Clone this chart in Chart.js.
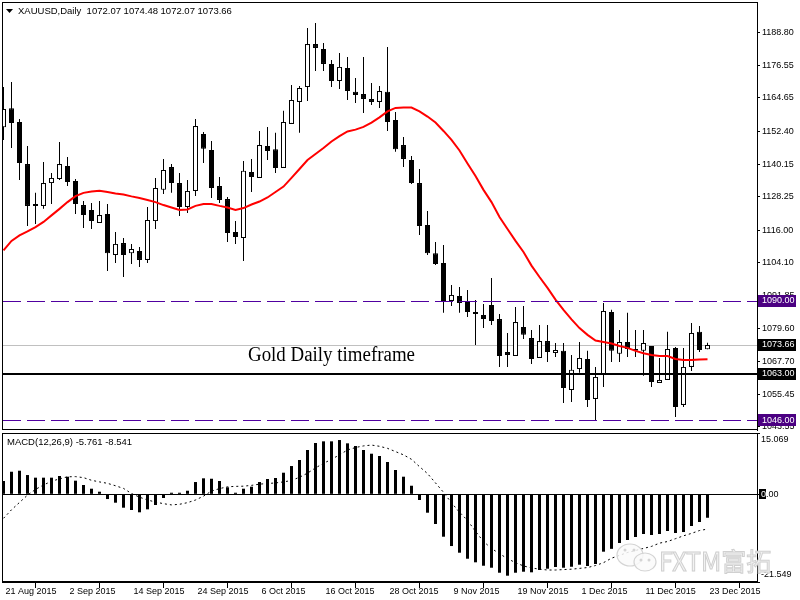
<!DOCTYPE html>
<html>
<head>
<meta charset="utf-8">
<title>XAUUSD Daily</title>
<script src="https://cdn.jsdelivr.net/npm/chart.js@4.4.1/dist/chart.umd.min.js"></script>
<style>
  html, body { margin: 0; padding: 0; background: #fff; }
  #wrap { position: relative; width: 800px; height: 600px; overflow: hidden; }
  canvas { position: absolute; left: 0; display: block; }
  #priceChart { top: 0; }
  #macdChart { top: 431px; }
</style>
</head>
<body>
<div id="wrap">
  <canvas id="priceChart" width="800" height="431"></canvas>
  <canvas id="macdChart" width="800" height="169"></canvas>
</div>
<script>
// bar 0 = 21 Aug 2015 ... bar 88 = 23 Dec 2015
var dateTicks = [0, 8, 16, 24, 32, 40, 48, 56, 64, 72, 80, 88];
var dateLabels = ['21 Aug 2015', '2 Sep 2015', '14 Sep 2015', '24 Sep 2015', '6 Oct 2015', '16 Oct 2015',
  '28 Oct 2015', '9 Nov 2015', '19 Nov 2015', '1 Dec 2015', '11 Dec 2015', '23 Dec 2015'];

var opens = [
  1153.9, 1160.9, 1155.8, 1140.3, 1125.6, 1124.9, 1133.3, 1134.8, 1139.6, 1134.1,
  1125.2, 1123.4, 1118.6, 1121.9, 1106.8, 1111.2, 1107.5, 1108.3, 1105.0, 1119.3,
  1130.8, 1139.2, 1133.3, 1124.5, 1130.4, 1151.4, 1145.5, 1132.2, 1127.4, 1115.3,
  1113.1, 1137.4, 1135.2, 1147.0, 1145.8, 1138.9, 1155.1, 1163.2, 1168.7, 1184.5,
  1182.7, 1177.2, 1170.9, 1175.7, 1166.9, 1166.1, 1164.3, 1163.2, 1166.9, 1156.5,
  1147.3, 1141.8, 1133.3, 1117.9, 1107.5, 1103.9, 1089.9, 1091.7, 1089.5, 1085.8,
  1084.7, 1088.4, 1083.2, 1071.1, 1069.6, 1080.3, 1076.2, 1068.9, 1075.1, 1070.7,
  1071.5, 1057.1, 1064.8, 1068.5, 1053.8, 1062.6, 1085.8, 1070.4, 1074.8, 1072.2,
  1071.5, 1073.3, 1059.7, 1060.8, 1072.6, 1051.6, 1065.6, 1078.5, 1072.07];
var highs = [
  1168.7, 1170.5, 1156.9, 1147.0, 1129.7, 1141.1, 1137.0, 1148.4, 1142.9, 1134.8,
  1126.7, 1126.0, 1126.7, 1125.6, 1115.3, 1113.1, 1110.9, 1109.8, 1124.5, 1135.2,
  1142.2, 1140.3, 1137.0, 1134.4, 1156.9, 1152.1, 1148.8, 1135.5, 1128.2, 1119.3,
  1141.4, 1142.2, 1152.5, 1154.0, 1151.8, 1159.9, 1169.4, 1169.1, 1190.4, 1192.3,
  1184.9, 1178.6, 1181.2, 1179.7, 1172.0, 1179.7, 1170.2, 1169.1, 1183.4, 1159.5,
  1150.3, 1143.3, 1138.5, 1123.0, 1111.6, 1110.5, 1095.8, 1095.0, 1093.9, 1090.2,
  1088.8, 1098.3, 1085.1, 1078.1, 1087.7, 1088.0, 1079.2, 1081.0, 1081.0, 1074.4,
  1074.4, 1070.0, 1074.8, 1071.5, 1065.6, 1089.1, 1086.6, 1079.2, 1085.5, 1079.2,
  1079.2, 1073.3, 1068.9, 1078.5, 1072.9, 1072.6, 1081.8, 1080.7, 1074.48];
var lows = [
  1149.2, 1146.2, 1134.4, 1117.5, 1118.2, 1123.8, 1125.6, 1134.4, 1132.2, 1121.9,
  1116.8, 1116.4, 1118.6, 1100.9, 1103.9, 1098.7, 1103.5, 1102.4, 1103.9, 1116.4,
  1129.3, 1129.7, 1121.2, 1122.3, 1128.5, 1140.7, 1127.8, 1126.0, 1111.6, 1110.9,
  1104.6, 1130.0, 1135.2, 1141.8, 1137.0, 1138.9, 1155.1, 1151.8, 1163.5, 1174.6,
  1174.6, 1168.7, 1168.0, 1163.9, 1162.8, 1159.1, 1162.1, 1161.0, 1152.5, 1144.8,
  1139.2, 1133.0, 1114.2, 1106.8, 1103.1, 1085.5, 1088.0, 1085.5, 1084.0, 1073.7,
  1079.9, 1081.0, 1065.6, 1065.6, 1069.6, 1075.9, 1066.7, 1068.9, 1067.4, 1069.2,
  1052.3, 1052.7, 1063.4, 1050.8, 1046.0, 1058.2, 1067.4, 1067.4, 1069.2, 1069.2,
  1062.3, 1058.2, 1059.7, 1060.8, 1047.1, 1050.8, 1064.1, 1071.1, 1072.07];
var closes = [
  1160.6, 1155.4, 1140.7, 1124.9, 1124.9, 1133.3, 1135.2, 1140.3, 1133.7, 1125.6,
  1121.5, 1119.3, 1121.5, 1107.5, 1110.9, 1106.8, 1109.0, 1105.0, 1119.7, 1131.5,
  1138.1, 1133.3, 1124.5, 1130.4, 1154.3, 1145.9, 1131.5, 1127.1, 1114.9, 1113.4,
  1137.8, 1135.5, 1147.3, 1145.1, 1138.9, 1155.8, 1163.9, 1168.3, 1184.5, 1183.1,
  1177.2, 1170.9, 1176.1, 1167.2, 1165.7, 1164.3, 1163.2, 1167.2, 1155.8, 1145.8,
  1142.2, 1133.3, 1117.5, 1107.5, 1103.5, 1089.5, 1092.1, 1089.1, 1085.8, 1085.1,
  1083.2, 1082.5, 1069.6, 1070.0, 1082.1, 1077.4, 1068.5, 1075.1, 1071.1, 1071.8,
  1057.8, 1064.5, 1068.9, 1053.4, 1061.9, 1086.2, 1071.5, 1074.8, 1072.2, 1071.5,
  1074.4, 1060.0, 1060.8, 1072.2, 1050.8, 1065.6, 1078.1, 1071.8, 1073.66];
// red moving average
var maValues = [
  1108.5, 1112.0, 1114.0, 1115.5, 1117.1, 1119.0, 1121.4, 1123.8, 1126.3, 1128.5,
  1129.7, 1130.2, 1130.5, 1130.0, 1129.5, 1129.1, 1128.4, 1127.8, 1127.1, 1126.3,
  1125.2, 1124.3, 1123.4, 1123.6, 1124.9, 1125.6, 1125.6, 1124.9, 1124.3, 1123.4,
  1124.1, 1125.4, 1126.5, 1128.0, 1130.0, 1132.0, 1135.2, 1138.5, 1141.8, 1144.0,
  1146.2, 1148.6, 1150.6, 1152.3, 1153.0, 1154.0, 1155.6, 1157.5, 1159.7, 1161.0,
  1161.1, 1161.1, 1159.7, 1157.8, 1155.6, 1152.5, 1149.2, 1145.3, 1140.5, 1135.9,
  1130.8, 1126.3, 1120.8, 1116.4, 1112.0, 1107.9, 1102.9, 1098.7, 1094.7, 1090.4,
  1086.6, 1083.1, 1079.9, 1077.4, 1075.3, 1074.8, 1074.2, 1073.3, 1072.6, 1071.5,
  1070.6, 1070.0, 1069.6, 1069.6, 1068.5, 1068.1, 1068.1, 1068.3, 1068.4];

// MACD(12,26,9)
var macdMain = [
  3.27, 5.55, 5.80, 4.74, 4.09, 4.09, 4.09, 4.50, 4.33, 3.35,
  2.29, 1.38, 0.64, -1.16, -2.06, -3.29, -3.86, -4.42, -3.69, -2.63,
  -0.91, 0.39, 0.39, 0.88, 3.02, 3.93, 3.83, 3.27, 1.72, 0.39,
  1.38, 1.87, 3.02, 3.76, 4.01, 5.31, 6.95, 8.43, 10.89, 12.61,
  13.02, 13.02, 13.34, 12.53, 11.87, 10.89, 9.98, 9.41, 7.94, 5.97,
  4.33, 2.11, -1.40, -4.52, -7.30, -10.42, -12.71, -14.35, -15.83, -16.71,
  -17.55, -18.04, -19.27, -20.00, -19.27, -19.02, -19.17, -18.60, -18.28, -17.87,
  -18.04, -17.80, -17.30, -17.62, -17.13, -14.10, -13.40, -11.97, -11.23, -10.49,
  -9.76, -10.00, -9.76, -9.02, -9.51, -9.27, -7.79, -6.81, -5.761];
var macdSignal = [
  -5.9, -3.8, -2.0, -0.2, 1.2, 2.3, 3.2, 3.8, 4.3, 4.35,
  4.1, 3.45, 3.05, 2.7, 2.1, 1.45, 0.2, -0.7, -1.4, -1.9,
  -2.3, -2.6, -2.45, -2.05, -1.4, -0.45, 0.8, 1.4, 1.85, 1.95,
  2.0, 2.2, 2.5, 2.65, 2.8, 3.05, 3.4, 4.2, 5.2, 6.5,
  7.6, 8.6, 9.7, 10.9, 11.5, 11.9, 12.1, 11.8, 11.3, 10.5,
  9.7, 8.6, 6.8, 5.1, 2.8, 0.5, -2.1, -4.4, -6.4, -9.1,
  -11.6, -13.3, -14.6, -15.8, -16.8, -17.6, -18.1, -18.4, -18.6, -18.6,
  -18.5, -18.4, -18.2, -18.0, -17.5, -16.8, -15.7, -15.0, -14.3, -13.8,
  -13.3, -12.8, -12.0, -11.6, -10.9, -10.2, -9.6, -8.9, -8.541];

var priceTicks = [1188.80, 1176.55, 1164.65, 1152.40, 1140.15, 1128.25, 1116.00, 1104.10,
  1091.85, 1079.60, 1067.70, 1055.45, 1043.55];
var macdTicks = [15.069, 0, -21.549];

var dashedLevels = [1090.00, 1046.00];
var solidLevel = 1063.00;
var bidPrice = 1073.66;

Chart.defaults.font.family = '"Liberation Sans", Arial, sans-serif';
Chart.defaults.font.size = 9;
Chart.defaults.color = '#000';

var X_MIN = -0.1875, X_MAX = 94.1875;
var idx = closes.map(function (v, i) { return i; });
var last = closes.length - 1;

function noPad(scale) {
  scale.paddingTop = 0; scale.paddingBottom = 0;
  scale.paddingLeft = 0; scale.paddingRight = 0;
}

function drawFrame(chart) {
  var ctx = chart.ctx, a = chart.chartArea;
  ctx.save();
  ctx.strokeStyle = '#000';
  ctx.lineWidth = 1;
  ctx.strokeRect(Math.round(a.left) + 0.5, Math.round(a.top) + 0.5,
    Math.round(a.right - a.left), Math.round(a.bottom - a.top) - 1);
  ctx.restore();
}

function hLine(chart, value, color, width, dash) {
  var ctx = chart.ctx, a = chart.chartArea;
  var py = chart.scales.y.getPixelForValue(value);
  py = width % 2 ? Math.round(py) + 0.5 : Math.round(py);
  ctx.save();
  ctx.beginPath();
  ctx.rect(a.left, a.top, a.right - a.left, a.bottom - a.top);
  ctx.clip();
  ctx.strokeStyle = color;
  ctx.lineWidth = width;
  ctx.setLineDash(dash);
  ctx.beginPath();
  ctx.moveTo(a.left + 1, py);
  ctx.lineTo(a.right, py);
  ctx.stroke();
  ctx.restore();
}

function drawTag(chart, value, bg) {
  var ctx = chart.ctx, a = chart.chartArea;
  var py = chart.scales.y.getPixelForValue(value);
  ctx.save();
  ctx.fillStyle = bg;
  ctx.fillRect(a.right + 1, Math.round(py) - 6, 38, 12);
  ctx.fillStyle = '#fff';
  ctx.font = '9px "Liberation Sans"';
  ctx.textBaseline = 'middle';
  ctx.textAlign = 'left';
  ctx.fillText(value.toFixed(2), a.right + 5, py);
  ctx.restore();
}

var priceOverlay = {
  id: 'priceOverlay',
  beforeDatasetsDraw: function (chart) {
    hLine(chart, bidPrice, '#c0c0c0', 1, []);
  },
  afterDatasetsDraw: function (chart) {
    dashedLevels.forEach(function (v) { hLine(chart, v, '#5000a0', 1, [18, 6]); });
    hLine(chart, solidLevel, '#000', 2, []);
  },
  afterDraw: function (chart) {
    var ctx = chart.ctx;
    drawFrame(chart);
    dashedLevels.forEach(function (v) { drawTag(chart, v, '#4b0082'); });
    drawTag(chart, bidPrice, '#000');
    drawTag(chart, solidLevel, '#000');

    ctx.save();
    // little menu triangle
    ctx.fillStyle = '#000';
    ctx.beginPath();
    ctx.moveTo(6, 9); ctx.lineTo(13, 9); ctx.lineTo(9.5, 13); ctx.closePath();
    ctx.fill();
    ctx.font = '9.5px "Liberation Sans"';
    ctx.textBaseline = 'middle';
    ctx.fillText('XAUUSD,Daily  ' + [opens[last], highs[last], lows[last], closes[last]]
      .map(function (v) { return v.toFixed(2); }).join(' '), 18, 11);

    // chart caption
    var caption = 'Gold Daily timeframe';
    ctx.font = '20px "Liberation Serif"';
    ctx.textBaseline = 'alphabetic';
    var w = ctx.measureText(caption).width;
    ctx.translate(248, 361);
    ctx.scale(167 / w, 1);
    ctx.fillText(caption, 0, 0);
    ctx.restore();
  }
};

var macdOverlay = {
  id: 'macdOverlay',
  beforeDatasetsDraw: function (chart) {
    hLine(chart, 0, '#000', 1, []);
  },
  afterDraw: function (chart) {
    var ctx = chart.ctx, a = chart.chartArea, y = chart.scales.y;
    drawFrame(chart);
    ctx.save();
    ctx.font = '9px "Liberation Sans"';
    ctx.textBaseline = 'middle';
    ctx.fillStyle = '#000';
    macdTicks.forEach(function (v) {
      var py = Math.min(Math.max(y.getPixelForValue(v), a.top + 7), a.bottom - 7);
      var txt = v === 0 ? '0.00' : v.toFixed(3);
      ctx.fillStyle = '#000';
      ctx.fillText(txt, a.right + 4, py);
      if (v === 0) {
        ctx.fillRect(a.right + 2, Math.round(py) - 5, 7, 10);
        ctx.save();
        ctx.beginPath();
        ctx.rect(a.right + 2, Math.round(py) - 5, 7, 10);
        ctx.clip();
        ctx.fillStyle = '#fff';
        ctx.fillText(txt, a.right + 4, py);
        ctx.restore();
      }
    });

    ctx.font = '9.5px "Liberation Sans"';
    ctx.fillStyle = '#000';
    ctx.fillText('MACD(12,26,9) ' + macdMain[last].toFixed(3) + ' ' + macdSignal[last].toFixed(3), 7, 11);

    // watermark
    ctx.strokeStyle = '#d4d4d4';
    ctx.fillStyle = 'rgba(250,250,250,0.85)';
    ctx.lineWidth = 1.2;
    ctx.beginPath();
    ctx.ellipse(630, 124, 13, 11, 0, 0, Math.PI * 2);
    ctx.fill(); ctx.stroke();
    ctx.beginPath();
    ctx.ellipse(645, 131, 11, 9, 0, 0, Math.PI * 2);
    ctx.fill(); ctx.stroke();
    ctx.fillStyle = '#d4d4d4';
    [[625, 119], [634, 119], [641, 129], [649, 129]].forEach(function (p) {
      ctx.beginPath(); ctx.arc(p[0], p[1], 1.5, 0, Math.PI * 2); ctx.fill();
    });
    ctx.font = '25px "Noto Sans CJK SC"';
    ctx.textBaseline = 'alphabetic';
    ctx.fillStyle = '#f3f3f3';
    ctx.strokeStyle = '#d0d0d0';
    ctx.lineWidth = 1;
    ctx.fillText('FXTM富拓', 659, 140);
    ctx.strokeText('FXTM富拓', 659, 140);
    ctx.restore();
  }
};

new Chart(document.getElementById('priceChart'), {
  type: 'bar',
  data: {
    datasets: [{
      type: 'line',
      data: idx.map(function (i) { return { x: i, y: maValues[i] }; }),
      borderColor: '#ff0000',
      borderWidth: 2,
      pointRadius: 0,
      order: 0
    }, {
      type: 'bar',
      data: idx.map(function (i) { return { x: i, y: [opens[i], closes[i]] }; }),
      backgroundColor: idx.map(function (i) { return closes[i] >= opens[i] ? '#ffffff' : '#000000'; }),
      borderColor: '#000',
      borderWidth: 1,
      borderSkipped: false,
      barThickness: 5,
      grouped: false,
      inflateAmount: 0,
      order: 1
    }, {
      type: 'bar',
      data: idx.map(function (i) { return { x: i, y: [lows[i], highs[i]] }; }),
      backgroundColor: '#000',
      borderWidth: 0,
      barThickness: 1,
      grouped: false,
      inflateAmount: 0,
      order: 2
    }]
  },
  options: {
    responsive: false,
    animation: false,
    layout: { padding: { left: 2, top: 2, right: 0, bottom: 1 } },
    plugins: { legend: { display: false }, tooltip: { enabled: false } },
    scales: {
      x: { type: 'linear', min: X_MIN, max: X_MAX, offset: false, display: false },
      y: {
        position: 'right',
        min: 1042.35,
        max: 1200.0,
        afterBuildTicks: function (scale) {
          scale.ticks = priceTicks.map(function (v) { return { value: v }; });
        },
        afterFit: function (scale) { scale.width = 43; noPad(scale); },
        ticks: { padding: 2, autoSkip: false, callback: function (v) { return v.toFixed(2); } },
        grid: { drawOnChartArea: false, drawTicks: true, tickLength: 3, color: '#000' },
        border: { display: true, color: '#000' }
      }
    }
  },
  plugins: [priceOverlay]
});

new Chart(document.getElementById('macdChart'), {
  type: 'bar',
  data: {
    datasets: [{
      type: 'line',
      data: idx.map(function (i) { return { x: i, y: macdSignal[i] }; }),
      borderColor: '#000',
      borderWidth: 1,
      borderDash: [2, 3],
      pointRadius: 0,
      order: 0
    }, {
      type: 'bar',
      data: idx.map(function (i) { return { x: i, y: macdMain[i] }; }),
      backgroundColor: '#000',
      borderWidth: 0,
      barThickness: 3,
      grouped: false,
      inflateAmount: 0,
      order: 1
    }]
  },
  options: {
    responsive: false,
    animation: false,
    layout: { padding: { left: 2, top: 2, right: 0, bottom: 0 } },
    plugins: { legend: { display: false }, tooltip: { enabled: false } },
    scales: {
      x: {
        type: 'linear',
        min: X_MIN,
        max: X_MAX,
        offset: false,
        position: 'bottom',
        afterBuildTicks: function (scale) {
          scale.ticks = dateTicks.map(function (v) { return { value: v }; });
        },
        afterFit: function (scale) { scale.height = 18; noPad(scale); },
        ticks: {
          align: 'start', autoSkip: false, maxRotation: 0, padding: -2, labelOffset: 2,
          callback: function (v, i) { return dateLabels[i]; }
        },
        grid: { drawOnChartArea: false, drawTicks: true, tickLength: 6, color: '#000' },
        border: { display: true, color: '#000' }
      },
      y: {
        position: 'right',
        min: -21.549,
        max: 15.069,
        afterBuildTicks: function (scale) {
          scale.ticks = macdTicks.map(function (v) { return { value: v }; });
        },
        afterFit: function (scale) { scale.width = 43; noPad(scale); },
        ticks: { display: false },
        grid: { drawOnChartArea: false, drawTicks: true, tickLength: 3, color: '#000' },
        border: { display: true, color: '#000' }
      }
    }
  },
  plugins: [macdOverlay]
});
</script>
</body>
</html>
